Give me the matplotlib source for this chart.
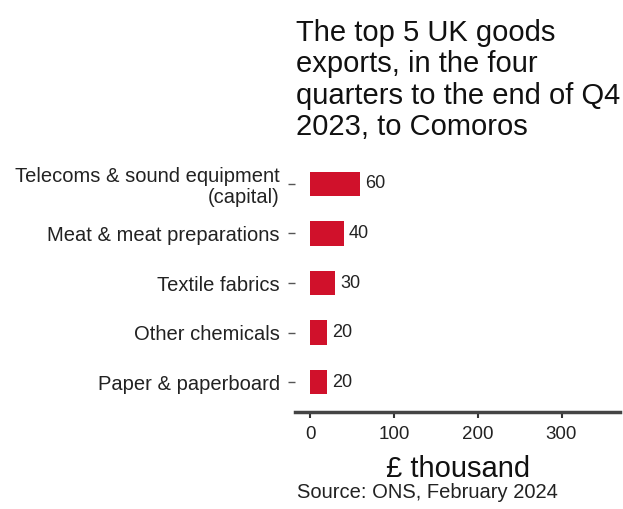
import matplotlib
matplotlib.use("Agg")
from matplotlib import pyplot as plt

categories = [
    "Telecoms & sound equipment\n(capital)",
    "Meat & meat preparations",
    "Textile fabrics",
    "Other chemicals",
    "Paper & paperboard",
]
values = [60, 40, 30, 20, 20]
value_labels = ["60", "40", "30", "20", "20"]
x_ticks = [0, 100, 200, 300]

plt.rcParams["font.family"] = ["Liberation Sans", "DejaVu Sans"]

fig = plt.figure(figsize=(6.23, 5.09), dpi=100)
ax = fig.add_axes([0.4735, 0.191, 0.522, 0.506])

pos = list(range(len(categories)))
ax.barh(pos, values, height=0.5, color="#d0112b")
for p, v, lab in zip(pos, values, value_labels):
    ax.text(v + 6, p, lab, va="center", ha="left", fontsize=13, color="#222222")

ax.set_xlim(-18, 370)
ax.set_ylim(4.6, -0.6)
ax.set_yticks(pos)
ax.set_yticklabels(categories, fontsize=14.5, color="#222222", linespacing=1.15)
ax.set_xticks(x_ticks)
ax.set_xticklabels([str(t) for t in x_ticks], fontsize=13.5, color="#222222")
ax.tick_params(axis="y", length=5, width=1, color="#555555", pad=6)
ax.tick_params(axis="x", length=4, width=1.5, color="#333333", pad=6)
for s in ["top", "right", "left"]:
    ax.spines[s].set_visible(False)
ax.spines["bottom"].set_linewidth(2.5)
ax.spines["bottom"].set_color("#444444")
ax.set_xlabel("£ thousand", fontsize=21, color="#111111", labelpad=9)

fig.text(296 / 623, 1 - 19 / 509,
         "The top 5 UK goods\nexports, in the four\nquarters to the end of Q4\n2023, to Comoros",
         ha="left", va="top", fontsize=21, color="#111111", linespacing=1.15)
fig.text(297 / 623, 1 - 498 / 509, "Source: ONS, February 2024",
         ha="left", va="baseline", fontsize=14.5, color="#222222")

fig.savefig("out.png", dpi=100)
